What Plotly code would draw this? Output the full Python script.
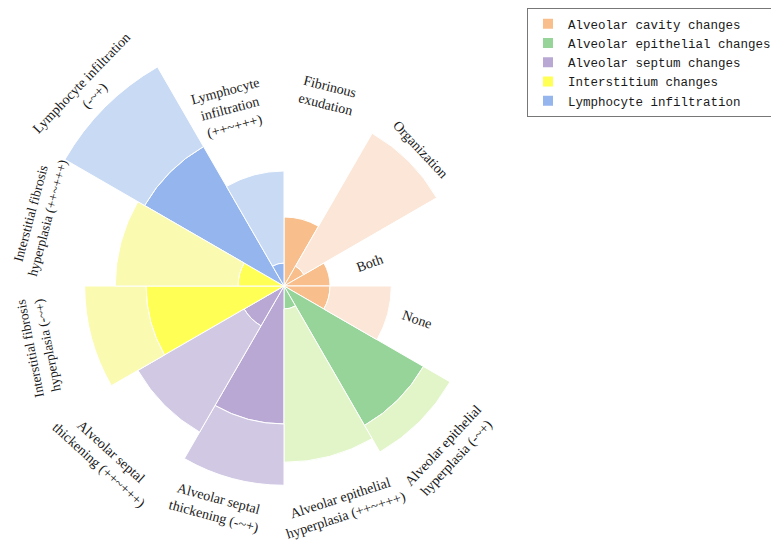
import math
import plotly.graph_objects as go

# ---------------- data ----------------
categories = [
    "Fibrinous exudation", "Organization", "Both", "None",
    "Alveolar epithelial hyperplasia (-~+)", "Alveolar epithelial hyperplasia (++~+++)",
    "Alveolar septal thickening (-~+)", "Alveolar septal thickening (++~+++)",
    "Interstitial fibrosis hyperplasia (-~+)", "Interstitial fibrosis hyperplasia (++~+++)",
    "Lymphocyte infiltration (-~+)", "Lymphocyte infiltration (++~+++)",
]
label_texts = [
    "Fibrinous<br>exudation", "Organization", "Both", "None",
    "Alveolar epithelial<br>hyperplasia (-~+)", "Alveolar epithelial<br>hyperplasia (++~+++)",
    "Alveolar septal<br>thickening (-~+)", "Alveolar septal<br>thickening (++~+++)",
    "Interstitial fibrosis<br>hyperplasia (-~+)", "Interstitial fibrosis<br>hyperplasia (++~+++)",
    "Lymphocyte infiltration<br>(-~+)", "Lymphocyte<br>infiltration<br>(++~+++)",
]
groups = ["Alveolar cavity changes", "Alveolar epithelial changes", "Alveolar septum changes",
          "Interstitium changes", "Lymphocyte infiltration"]
category_group = [0, 0, 0, 0, 1, 1, 2, 2, 3, 3, 4, 4]
inner_values = [37.5, 12.5, 25, 25, 87.5, 12.5, 75, 25, 75, 25, 87.5, 12.5]
outer_values = [0, 83.3, 0, 33.3, 16.7, 83.3, 33.3, 66.7, 33.3, 66.7, 50, 50]

# ---------------- style ----------------
dark_colors = ["#F8BF8D", "#96D49A", "#B9A8D4", "#FFFF55", "#94B5EE"]
light_colors = ["#FBE6D7", "#E1F5C8", "#D1C8E4", "#FAFAB0", "#C9DAF5"]
PAGE_MARGIN = 8              # default body margin of the html page
W, H = 779 - PAGE_MARGIN, 541 - PAGE_MARGIN
CX, CY = 284 - PAGE_MARGIN, 286 - PAGE_MARGIN   # polar centre in figure pixels
R_MAX = 138                  # radial range max
PX_PER_UNIT = 1.84
R_PX = R_MAX * PX_PER_UNIT
SECTOR = 360 / len(categories)
label_radius_px = [195, 193, 88, 137, 235, 229, 232, 249, 252, 254, 277, 185]
label_angle_offset = [-2, 0, 0, -1, 0, 0, 2, 1, 1, 1, 0, -2]
label_rot = [14, 47, -20, 19, -47, -18, 15, 42, -101, -75, -46, -15]
label_size = [14, 14, 14, 14, 14, 14, 14, 14, 13.5, 13.5, 14, 14]

theta = [i * SECTOR + SECTOR / 2 for i in range(len(categories))]

fig = go.Figure()
for g, name in enumerate(groups):
    idx = [i for i, c in enumerate(category_group) if c == g]
    fig.add_trace(go.Barpolar(
        r=[inner_values[i] for i in idx], theta=[theta[i] for i in idx], width=SECTOR,
        name=name, marker=dict(color=dark_colors[g], line=dict(color="white", width=1)),
        hovertext=[categories[i] for i in idx], legendgroup=name,
    ))
for g, name in enumerate(groups):
    idx = [i for i, c in enumerate(category_group) if c == g and outer_values[i] > 0]
    fig.add_trace(go.Barpolar(
        r=[outer_values[i] for i in idx], theta=[theta[i] for i in idx], width=SECTOR,
        name=name, showlegend=False, legendgroup=name,
        marker=dict(color=light_colors[g], line=dict(color="white", width=1)),
        hovertext=[categories[i] for i in idx],
    ))

annotations = []
for i, txt in enumerate(label_texts):
    a = math.radians(theta[i] + label_angle_offset[i])
    xp = CX + label_radius_px[i] * math.sin(a)
    yp = CY - label_radius_px[i] * math.cos(a)
    annotations.append(dict(
        x=xp / W, y=1 - yp / H, xref="paper", yref="paper", text=txt, showarrow=False,
        textangle=label_rot[i], xanchor="center", yanchor="middle",
        font=dict(family="Liberation Serif", size=label_size[i], color="#1a1a1a"),
    ))

cy_b = H - CY
fig.update_layout(
    width=W, height=H, margin=dict(l=0, r=0, t=0, b=0, autoexpand=False),
    paper_bgcolor="white", plot_bgcolor="white",
    polar=dict(
        domain=dict(x=[(CX - R_PX) / W, (CX + R_PX) / W],
                    y=[max(0, (cy_b - R_PX) / H), (cy_b + R_PX) / H]),
        bgcolor="white", barmode="stack", hole=0,
        radialaxis=dict(range=[0, R_MAX], visible=False, showgrid=False),
        angularaxis=dict(rotation=90, direction="clockwise", showgrid=False, showline=False,
                         showticklabels=False, ticks=""),
    ),
    legend=dict(x=(527 - PAGE_MARGIN) / W, y=1, xanchor="left", yanchor="top", bgcolor="white",
                bordercolor="#777777", borderwidth=1,
                font=dict(family="Liberation Mono", size=12.5, color="#1a1a1a"),
                itemsizing="constant", tracegroupgap=0),
    annotations=annotations,
    showlegend=True,
)
fig.write_html("out.html")
